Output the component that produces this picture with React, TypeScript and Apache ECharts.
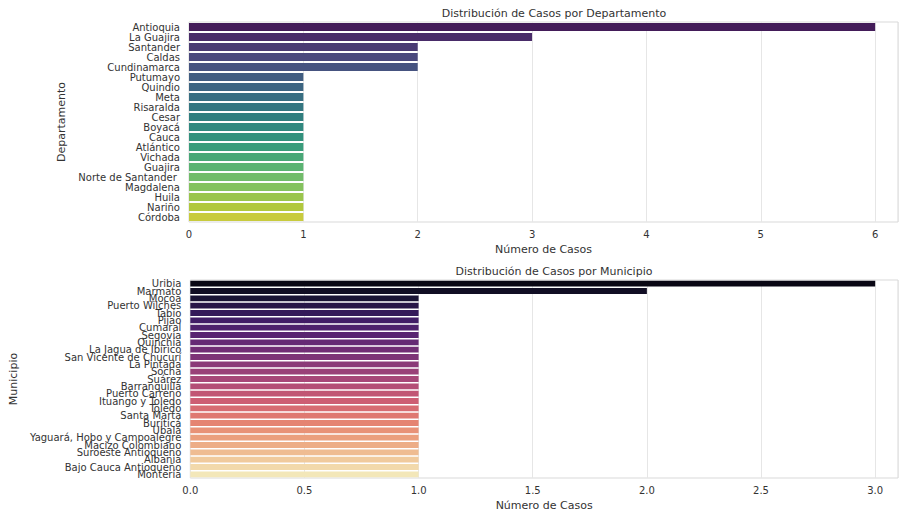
import React, { useEffect, useRef } from "react";
import * as echarts from "echarts";

const deptCategories = [
  "Antioquia", "La Guajira", "Santander", "Caldas", "Cundinamarca", "Putumayo",
  "Quindio", "Meta", "Risaralda", "Cesar", "Boyacá", "Cauca", "Atlántico",
  "Vichada", "Guajira", "Norte de Santander ", "Magdalena", "Huila", "Nariño", "Córdoba",
];
const deptValues = [6, 3, 2, 2, 2, 1, 1, 1, 1, 1, 1, 1, 1, 1, 1, 1, 1, 1, 1, 1];

const muniCategories = [
  "Uribia", "Marmato", "Mocoa", "Puerto Wilches", "Tabio", "Pijao", "Cumaral",
  "Segovia", "Quinchía", "La Jagua de Ibirico", "San Vicente de Chucurí", "La Pintada",
  "Socha", "Suárez", "Barranquilla", "Puerto Carreño", "Ituango y Toledo", "Toledo",
  "Santa Marta", "Buriticá", "Ubalá", "Yaguará, Hobo y Campoalegre", "Macizo Colombiano",
  "Suroeste Antioqueño", "Albania", "Bajo Cauca Antioqueño", "Montería",
];
const muniValues = [3, 2, 1, 1, 1, 1, 1, 1, 1, 1, 1, 1, 1, 1, 1, 1, 1, 1, 1, 1, 1, 1, 1, 1, 1, 1, 1];

const deptTickLabels = ["0", "1", "2", "3", "4", "5", "6"];
const muniTickLabels = ["0.0", "0.5", "1.0", "1.5", "2.0", "2.5", "3.0"];

// visible part of the value axis (the reference crops the plot at the right edge)
const deptAxisMax = 6.2;
const muniAxisMax = 3.1;

const VIRIDIS = ["#440154", "#482475", "#414487", "#355f8d", "#2a788e", "#21918c", "#22a884", "#44bf70", "#7ad151", "#bddf26", "#fde725"];
const MAGMA = ["#000004", "#140e36", "#3b0f70", "#641a80", "#8c2981", "#b73779", "#de4968", "#f7705c", "#fe9f6d", "#fecf92", "#fcfdbf"];

function hexToRgb(h: string): number[] {
  return [1, 3, 5].map((i) => parseInt(h.slice(i, i + 2), 16) / 255);
}
function sample(stops: string[], t: number): number[] {
  const p = t * (stops.length - 1);
  const i = Math.min(Math.floor(p), stops.length - 2);
  const f = p - i;
  const a = hexToRgb(stops[i]);
  const b = hexToRgb(stops[i + 1]);
  return a.map((v, k) => v + (b[k] - v) * f);
}
function desaturate(rgb: number[], prop: number): string {
  const [r, g, b] = rgb;
  const mx = Math.max(r, g, b), mn = Math.min(r, g, b);
  const l = (mx + mn) / 2;
  let h = 0, s = 0;
  if (mx !== mn) {
    const d = mx - mn;
    s = l > 0.5 ? d / (2 - mx - mn) : d / (mx + mn);
    if (mx === r) h = ((g - b) / d) % 6;
    else if (mx === g) h = (b - r) / d + 2;
    else h = (r - g) / d + 4;
    h /= 6;
    if (h < 0) h += 1;
  }
  s *= prop;
  const hue2rgb = (p: number, q: number, t: number) => {
    if (t < 0) t += 1;
    if (t > 1) t -= 1;
    if (t < 1 / 6) return p + (q - p) * 6 * t;
    if (t < 1 / 2) return q;
    if (t < 2 / 3) return p + (q - p) * (2 / 3 - t) * 6;
    return p;
  };
  let out: number[];
  if (s === 0) out = [l, l, l];
  else {
    const q = l < 0.5 ? l * (1 + s) : l + s - l * s;
    const p = 2 * l - q;
    out = [hue2rgb(p, q, h + 1 / 3), hue2rgb(p, q, h), hue2rgb(p, q, h - 1 / 3)];
  }
  return "rgb(" + out.map((v) => Math.round(v * 255)).join(",") + ")";
}
function palette(stops: string[], n: number): string[] {
  return Array.from({ length: n }, (_, i) => desaturate(sample(stops, (i + 1) / (n + 1)), 0.75));
}

const FONT = "DejaVu Sans";
const TXT = "#333333";

export default function App() {
  const ref = useRef<HTMLDivElement>(null);
  useEffect(() => {
    if (!ref.current) return;
    const chart = echarts.init(ref.current, undefined, { renderer: "svg" });
    const deptColors = palette(VIRIDIS, deptCategories.length);
    const muniColors = palette(MAGMA, muniCategories.length);

    const xAxisCommon = (gridIndex: number, max: number, interval: number, labels: string[]) => ({
      type: "value",
      gridIndex,
      min: 0,
      max,
      interval,
      name: "Número de Casos",
      nameLocation: "middle",
      nameGap: 22,
      nameTextStyle: { fontFamily: FONT, fontSize: 11, color: TXT },
      axisLine: { show: false },
      axisTick: { show: false },
      axisLabel: {
        fontFamily: FONT,
        fontSize: 10,
        color: TXT,
        margin: 7,
        formatter: (v: number) => {
          const idx = Math.round(v / interval);
          return Math.abs(idx * interval - v) < 1e-9 && idx < labels.length ? labels[idx] : "";
        },
      },
      splitLine: { show: true, lineStyle: { color: "#e6e6e6", width: 1 } },
    });

    const yAxisCommon = (gridIndex: number, cats: string[], name: string, gap: number) => ({
      type: "category",
      gridIndex,
      data: cats,
      inverse: true,
      name,
      nameLocation: "middle",
      nameRotate: 90,
      nameGap: gap,
      nameTextStyle: { fontFamily: FONT, fontSize: 11, color: TXT },
      axisLine: { show: false },
      axisTick: { show: false },
      axisLabel: { fontFamily: FONT, fontSize: 10, color: TXT, interval: 0, margin: 9, lineHeight: 10 },
      splitLine: { show: false },
    });

    chart.setOption({
      animation: false,
      backgroundColor: "#ffffff",
      title: [
        {
          text: "Distribución de Casos por Departamento",
          left: 549,
          top: 3,
          textAlign: "center",
          textStyle: { fontFamily: FONT, fontSize: 11, fontWeight: "normal", color: TXT },
        },
        {
          text: "Distribución de Casos por Municipio",
          left: 549,
          top: 261,
          textAlign: "center",
          textStyle: { fontFamily: FONT, fontSize: 11, fontWeight: "normal", color: TXT },
        },
      ],
      grid: [
        { left: 189, top: 22, right: 0, height: 200, show: true, borderColor: "#d9d9d9", borderWidth: 1, backgroundColor: "transparent" },
        { left: 189, top: 280, right: 0, height: 198, show: true, borderColor: "#d9d9d9", borderWidth: 1, backgroundColor: "transparent" },
      ],
      xAxis: [xAxisCommon(0, deptAxisMax, 1, deptTickLabels), xAxisCommon(1, muniAxisMax, 0.5, muniTickLabels)],
      yAxis: [yAxisCommon(0, deptCategories, "Departamento", 106), yAxisCommon(1, muniCategories, "Municipio", 158)],
      series: [
        {
          type: "bar",
          xAxisIndex: 0,
          yAxisIndex: 0,
          barCategoryGap: "20%",
          data: deptValues.map((v, i) => ({ value: v, itemStyle: { color: deptColors[i] } })),
        },
        {
          type: "bar",
          xAxisIndex: 1,
          yAxisIndex: 1,
          barCategoryGap: "20%",
          data: muniValues.map((v, i) => ({ value: v, itemStyle: { color: muniColors[i] } })),
        },
      ],
    });
    return () => chart.dispose();
  }, []);
  return (
    <div
      ref={ref}
      style={{ position: "fixed", left: 0, top: 0, width: 901, height: 515, background: "#fff" }}
    />
  );
}
